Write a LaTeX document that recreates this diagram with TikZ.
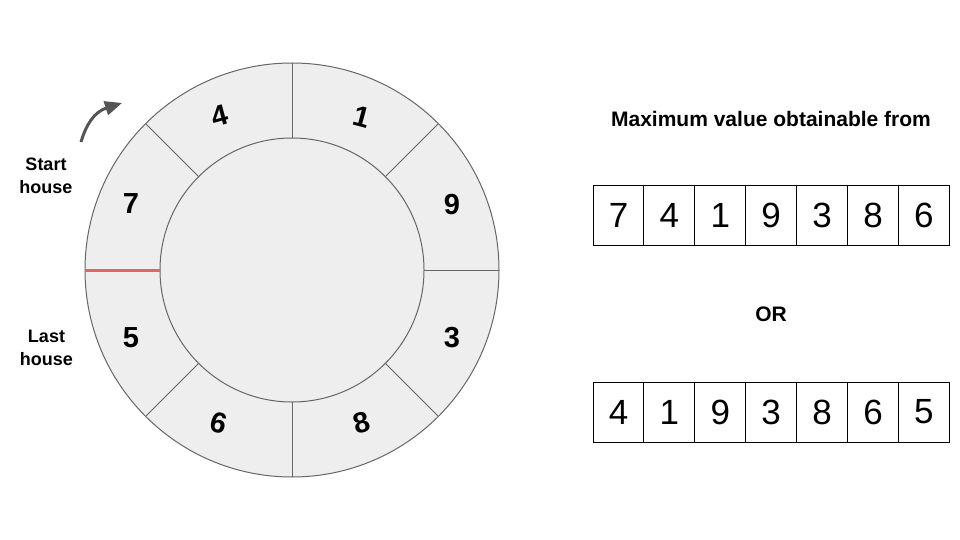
\documentclass[tikz,border=0pt]{standalone}
\usepackage{fontspec}
\setmainfont{Liberation Sans}
\usetikzlibrary{arrows.meta}
\definecolor{ringfill}{HTML}{EEEEEE}
\definecolor{ringline}{HTML}{666666}
\definecolor{cutred}{HTML}{E06666}
\definecolor{arrowgray}{HTML}{555555}

\begin{document}
\begin{tikzpicture}[x=1pt, y=-1pt,
	house/.style={font=\fontsize{29}{29}\selectfont\bfseries},
	cell/.style={draw=black, line width=1pt, minimum width=50.9pt, minimum height=60pt,
		inner sep=0pt, outer sep=0pt, font=\fontsize{35}{35}\selectfont},
	caption/.style={font=\fontsize{18}{23}\selectfont\bfseries, align=center}]
	\useasboundingbox (0,0) rectangle (960,540);

	\coordinate[](c) at (292,270);
	\coordinate[](arrowtail) at (81,142);
	\coordinate[](arrowhead) at (122,103);

	% Ring of houses
	\begin{scope}[shift={(c)}, y=1pt]
		\filldraw[fill=ringfill, draw=ringline, line width=1pt] (0,0) circle (207);
		\filldraw[fill=ringfill, draw=ringline, line width=1pt] (0,0) circle (132);
		\foreach \a in {0,45,90,135,225,270,315}
			\draw[ringline, line width=1pt] (\a:132) -- (\a:207);
		\draw[cutred, line width=3pt] (180:132) -- (180:207);
	\end{scope}

	%% House values
	\foreach \x/\y/\v/\r in {220/116/4/15, 362/117/1/-15, 452/205/9/0, 452/338/3/0,
		362/423/8/15, 219/423/6/-15, 131/338/5/0, 131/204/7/0}
		\node[house, rotate=\r] (h\v) at (\x,\y) {\v};

	%% Start and last
	\draw[arrowgray, line width=3pt, -{Triangle[length=17pt, width=14pt]}]
	(arrowtail) .. controls (86,125) and (94,112) .. (arrowhead);
	\node[caption] (start) at (46,175.5) {Start\\house};
	\node[caption] (last) at (46.5,348) {Last\\house};

	%% Sequences
	\node[caption, font=\fontsize{21}{22}\selectfont\bfseries] (title) at (771,119)
	{Maximum value obtainable from};
	\foreach \v [count=\i from 0] in {7,4,1,9,3,8,6}
		\node[cell] (first\i) at ({618.5+50.9*\i},215) {\v};
	\node[caption, font=\fontsize{21}{22}\selectfont\bfseries] (or) at (771,314) {OR};
	\foreach \v [count=\i from 0] in {4,1,9,3,8,6,5}
		\node[cell] (second\i) at ({618.5+50.9*\i},412) {\v};

\end{tikzpicture}
\end{document}
